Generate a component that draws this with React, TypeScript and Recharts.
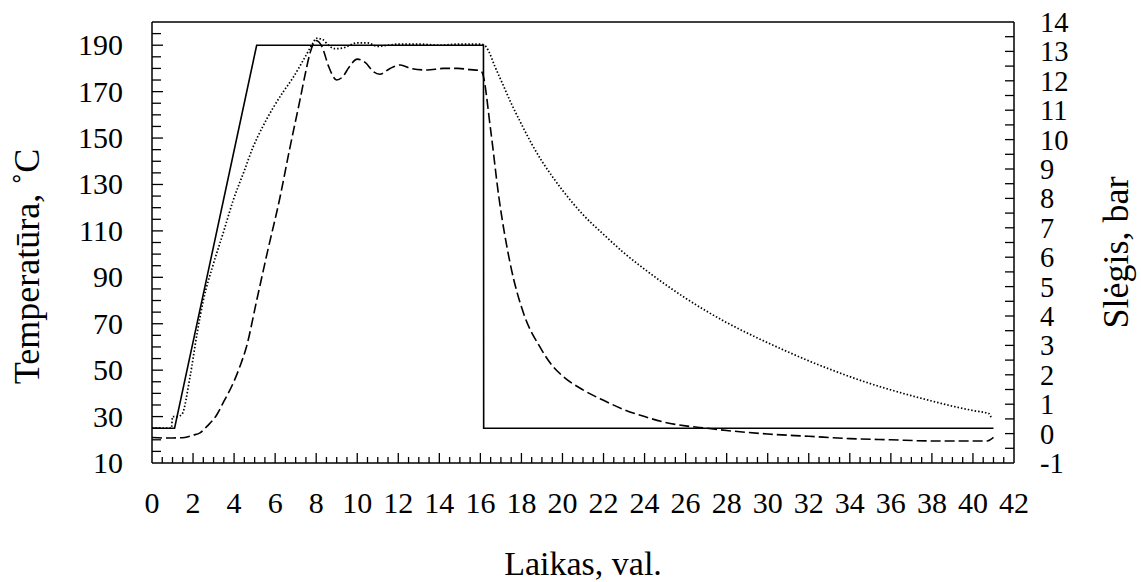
import React from 'react';
import { LineChart, Line, XAxis, YAxis, ReferenceLine, Label } from 'recharts';

// ---- data ----
const setpointTime = [0, 1.1, 5.1, 16.15, 16.16, 41];
const setpointTemp = [25, 25, 190, 190, 25, 25];

const airTime = [0, 0.95, 1.0, 1.25, 1.46, 1.85, 2.2, 2.5, 3.0, 3.5, 3.95, 4.5, 4.92, 5.4, 5.9, 6.4, 6.87, 7.4, 7.85, 8.0, 8.3, 8.6, 8.9, 9.3, 10, 10.5, 11, 11.5, 12, 13, 14, 15, 16, 16.2, 16.4, 16.7, 17, 17.5, 18, 18.5, 19, 19.5, 20, 20.5, 21, 22, 23, 24, 25, 26, 27, 28, 29, 30, 31, 32, 33, 34, 35, 36, 37, 38, 39, 40, 40.8, 40.9];
const airTemp = [25, 25, 30, 30, 31, 47, 66, 80, 96, 110, 123, 136, 146, 155, 163, 170, 176, 184, 191, 193, 192.5, 190, 188.5, 188.8, 191, 191, 189.5, 190, 190.5, 190.5, 190, 190.5, 190.5, 190, 187.5, 181, 175, 165, 156, 147.5, 140, 133.5, 127.5, 122, 117, 108.5, 100.5, 93.5, 87, 81, 75.5, 70.5, 66, 61.8, 57.8, 54, 50.5, 47.2, 44.2, 41.5, 39, 36.7, 34.5, 32.6, 31.2, 29];

const partTime = [0, 0.5, 1, 1.6, 2.0, 2.34, 2.7, 3.15, 3.5, 3.96, 4.3, 4.6, 5.1, 5.6, 6.24, 6.7, 7.2, 7.5, 7.7, 8.0, 8.3, 8.6, 9.0, 9.3, 9.6, 10.0, 10.4, 10.8, 11.1, 11.6, 12.1, 12.6, 13.4, 14.2, 14.9, 15.5, 16.0, 16.1, 16.5, 16.9, 17.45, 18.1, 18.9, 19.5, 20, 21, 22, 23, 24, 25, 26, 27, 28, 30, 32, 34, 36, 38, 40, 40.7, 41];
const partTemp = [21, 20.8, 20.8, 21, 22, 23, 26, 30.7, 36.5, 44.5, 52, 60, 80, 100, 124.6, 145, 166, 179, 186.6, 192, 189, 181, 175, 176.5, 180.5, 184, 182.5, 178.5, 177.5, 180, 181.5, 180, 179.3, 180, 180, 179.5, 179, 178, 153.5, 124.6, 96, 74.6, 60, 52, 47.5, 41.5, 37, 33, 30, 27.5, 26, 25, 24, 22.5, 21.5, 20.5, 20, 19.5, 19.5, 19.5, 21];

const xTicks = Array.from({ length: 85 }, (_, i) => i * 0.5);
const leftTicks = Array.from({ length: 39 }, (_, i) => 10 + i * 5);
const rightTicks = Array.from({ length: 31 }, (_, i) => -1 + i * 0.5);

const toRows = (ts: number[], vs: number[]) => ts.map((t, i) => ({ t, v: vs[i] }));
const setpointData = toRows(setpointTime, setpointTemp);
const airData = toRows(airTime, airTemp);
const partData = toRows(partTime, partTemp);

const FONT = '"Liberation Serif", "Times New Roman", serif';
const INK = '#000';
const TICK_FS = 30;
const RIGHT_FS = 28.5;

const BottomTick = (props: any) => {
  const { x, y, payload } = props;
  const v = payload.value as number;
  const major = Math.abs(v / 2 - Math.round(v / 2)) < 1e-6;
  return (
    <g>
      {v > 0 && v < 42 && (
        <line x1={x} x2={x} y1={y} y2={y - (major ? 10 : 6)} stroke={INK} strokeWidth={1.3} />
      )}
      {major && (
        <text x={x} y={y + 50} textAnchor="middle" fontFamily={FONT} fontSize={TICK_FS} fill={INK}>
          {v}
        </text>
      )}
    </g>
  );
};

const LeftTick = (props: any) => {
  const { x, y, payload } = props;
  const v = payload.value as number;
  const major = (v - 10) % 20 === 0;
  return (
    <g>
      {v < 200 && v > 10 && (
        <line x1={x} x2={x + (major ? 11 : 9)} y1={y} y2={y} stroke={INK} strokeWidth={1.3} />
      )}
      {major && (
        <text x={x - 29} y={y + 10} textAnchor="end" fontFamily={FONT} fontSize={TICK_FS} fill={INK}>
          {v}
        </text>
      )}
    </g>
  );
};

const RightTick = (props: any) => {
  const { x, y, payload } = props;
  const v = payload.value as number;
  const major = Math.abs(v - Math.round(v)) < 1e-6;
  return (
    <g>
      {v < 14 && v > -1 && (
        <line x1={x} x2={x - 9} y1={y} y2={y} stroke={INK} strokeWidth={1.3} />
      )}
      {major && (
        <text x={x + 26} y={y + 10} textAnchor="start" fontFamily={FONT} fontSize={RIGHT_FS} fill={INK}>
          {v}
        </text>
      )}
    </g>
  );
};

export default function App() {
  return (
    <div style={{ position: 'absolute', left: 0, top: 0, width: 1141, height: 582, background: '#fff' }}>
      <LineChart width={1141} height={582} margin={{ top: 22, right: 0, bottom: 0, left: 0 }}>
        <XAxis
          type="number"
          dataKey="t"
          domain={[0, 42]}
          ticks={xTicks}
          interval={0}
          tickSize={0}
          tickMargin={0}
          tickLine={false}
          tick={BottomTick}
          height={119}
          axisLine={{ stroke: INK, strokeWidth: 1.5 }}
          allowDuplicatedCategory={false}
        >
          <Label
            content={(p: any) => {
              const vb = p.viewBox;
              return (
                <text x={vb.x + vb.width / 2} y={vb.y + 112} textAnchor="middle" fontFamily={FONT} fontSize={34} fill={INK}>
                  Laikas, val.
                </text>
              );
            }}
          />
        </XAxis>
        <YAxis
          yAxisId="left"
          type="number"
          domain={[10, 200]}
          ticks={leftTicks}
          interval={0}
          width={152}
          tickSize={0}
          tickMargin={0}
          tickLine={false}
          tick={LeftTick}
          axisLine={{ stroke: INK, strokeWidth: 1.5 }}
          allowDataOverflow
        >
          <Label
            content={(p: any) => {
              const vb = p.viewBox;
              const cx = 39;
              const cy = vb.y + vb.height / 2 + 24;
              return (
                <text x={cx} y={cy} transform={`rotate(-90 ${cx} ${cy})`} textAnchor="middle" fontFamily={FONT} fontSize={36} fill={INK}>
                  Temperatūra, ˚C
                </text>
              );
            }}
          />
        </YAxis>
        <YAxis
          yAxisId="right"
          orientation="right"
          type="number"
          domain={[-1, 14]}
          ticks={rightTicks}
          interval={0}
          width={127}
          tickSize={0}
          tickMargin={0}
          tickLine={false}
          tick={RightTick}
          axisLine={{ stroke: INK, strokeWidth: 1.5 }}
          allowDataOverflow
        >
          <Label
            content={(p: any) => {
              const vb = p.viewBox;
              const cx = vb.x + 114;
              const cy = vb.y + vb.height / 2 + 10;
              return (
                <text x={cx} y={cy} transform={`rotate(-90 ${cx} ${cy})`} textAnchor="middle" fontFamily={FONT} fontSize={36} fill={INK}>
                  Slėgis, bar
                </text>
              );
            }}
          />
        </YAxis>
        <ReferenceLine yAxisId="left" y={200} stroke={INK} strokeWidth={1.5} />
        <Line
          yAxisId="left"
          data={setpointData}
          dataKey="v"
          type="linear"
          stroke={INK}
          strokeWidth={1.6}
          dot={false}
          isAnimationActive={false}
        />
        <Line
          yAxisId="left"
          data={airData}
          dataKey="v"
          type="monotone"
          stroke={INK}
          strokeWidth={1.7}
          strokeDasharray="1.5 2"
          dot={false}
          isAnimationActive={false}
        />
        <Line
          yAxisId="left"
          data={partData}
          dataKey="v"
          type="monotone"
          stroke={INK}
          strokeWidth={1.6}
          strokeDasharray="10 4"
          dot={false}
          isAnimationActive={false}
        />
      </LineChart>
    </div>
  );
}
